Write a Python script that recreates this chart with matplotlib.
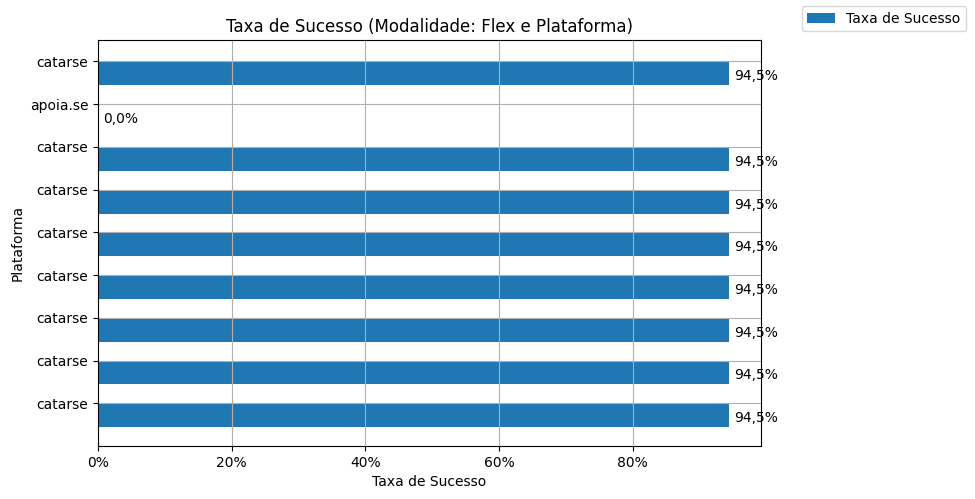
import numpy as np
import matplotlib
matplotlib.use('Agg')
import matplotlib.pyplot as plt
from matplotlib.ticker import PercentFormatter

# data (bottom to top)
plataformas = ['catarse', 'catarse', 'catarse', 'catarse', 'catarse',
               'catarse', 'catarse', 'apoia.se', 'catarse']
taxa_sucesso = [94.5, 94.5, 94.5, 94.5, 94.5, 94.5, 94.5, 0.0, 94.5]

fig = plt.figure(figsize=(9.75, 4.99), dpi=100)
ax = fig.add_axes([98/975, 53/499, 663/975, 406/499])

pos = np.arange(len(plataformas))
ax.barh(pos, taxa_sucesso, height=-0.56, align='edge', color='#1f77b4',
        label='Taxa de Sucesso')

for p, v in zip(pos, taxa_sucesso):
    ax.text(v + 0.7, p - 0.35, f'{v:.1f}%'.replace('.', ','),
            va='center', ha='left', fontsize=10)

ax.set_yticks(pos)
ax.set_yticklabels(plataformas)
ax.set_ylim(-1, 8.5)
ax.set_xlim(0, max(taxa_sucesso) * 1.05)
ax.xaxis.set_major_formatter(PercentFormatter(decimals=0))
ax.set_xticks([0, 20, 40, 60, 80])
ax.grid(True)

ax.set_title('Taxa de Sucesso (Modalidade: Flex e Plataforma)')
ax.set_xlabel('Taxa de Sucesso')
ax.set_ylabel('Plataforma')
fig.legend(loc='upper right', bbox_to_anchor=(1 - 2/975, 1 + 1/499))

fig.savefig('out.png', dpi=100)
